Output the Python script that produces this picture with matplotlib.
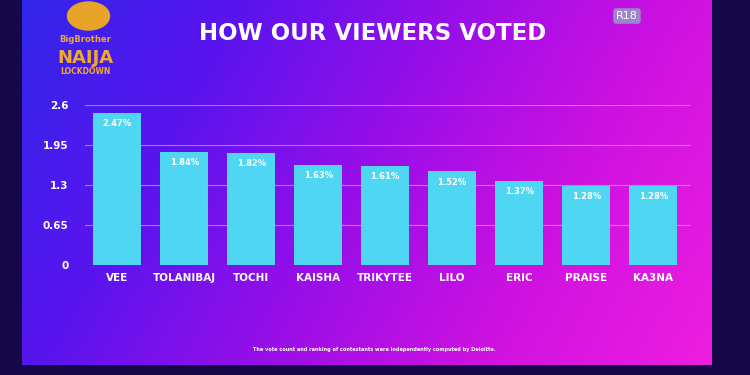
import numpy as np
import matplotlib.pyplot as plt
from matplotlib.colors import LinearSegmentedColormap
from matplotlib.patches import Ellipse

contestants = ['VEE', 'TOLANIBAJ', 'TOCHI', 'KAISHA', 'TRIKYTEE', 'LILO', 'ERIC', 'PRAISE', 'KA3NA']
votes = [2.47, 1.84, 1.82, 1.63, 1.61, 1.52, 1.37, 1.28, 1.28]
yticks = [0, 0.65, 1.3, 1.95, 2.6]
ytick_labels = ['0', '0.65', '1.3', '1.95', '2.6']

fig = plt.figure(figsize=(7.5, 3.75), dpi=100)
fig.patch.set_facecolor('#140848')

# screen background with a blue -> purple -> magenta gradient
bg = fig.add_axes([22 / 750, 10 / 375, 690 / 750, 365 / 375])
cmap = LinearSegmentedColormap.from_list('screen', ['#3226ea', '#5a14ee', '#9a0ee8', '#d012e0', '#ee1ee0'])
gx, gy = np.meshgrid(np.linspace(0, 1, 300), np.linspace(0, 1, 150))
grad = 0.85 * gx + 0.25 * gy
bg.imshow(grad, cmap=cmap, aspect='auto', extent=[0, 1, 0, 1], origin='upper', vmin=0, vmax=1.1)
bg.set_xlim(0, 1)
bg.set_ylim(0, 1)
bg.axis('off')

# main chart
ax = fig.add_axes([85 / 750, 1 - 265 / 375, 605 / 750, 160 / 375])
ax.patch.set_alpha(0)
x = np.arange(len(contestants))
ax.bar(x, votes, width=0.72, color='#4fd6f2', zorder=3)
for xi, v in zip(x, votes):
    ax.text(xi, v - 0.1, f'{v:.2f}%', ha='center', va='top', color='white',
            fontsize=6, fontweight='bold', zorder=4)
ax.set_ylim(0, 2.6)
ax.set_xlim(-0.48, 8.55)
ax.set_yticks(yticks)
ax.set_yticklabels(ytick_labels)
ax.set_xticks(x)
ax.set_xticklabels(contestants)
ax.grid(axis='y', color='#c89cf5', linewidth=0.8, alpha=0.7, zorder=0)
ax.tick_params(axis='both', length=0, colors='white', labelsize=7.5)
ax.tick_params(axis='y', pad=12)
ax.tick_params(axis='x', pad=6)
for lbl in ax.get_xticklabels() + ax.get_yticklabels():
    lbl.set_fontweight('bold')
for s in ax.spines.values():
    s.set_visible(False)

# title and decorations
fig.text(373 / 750, 1 - 33 / 375, 'HOW OUR VIEWERS VOTED', ha='center', va='center',
         color='white', fontsize=16.5, fontweight='bold')
fig.text(627 / 750, 1 - 16 / 375, 'R18', ha='center', va='center', color='white',
         fontsize=8, bbox=dict(boxstyle='round,pad=0.25', fc='#9a86c8', ec='none'))

logo = fig.add_axes([50 / 750, 1 - 80 / 375, 70 / 750, 80 / 375])
logo.set_xlim(0, 1)
logo.set_ylim(0, 1)
logo.axis('off')
logo.add_patch(Ellipse((0.55, 0.8), 0.6, 0.35, color='#e8a428'))
logo.text(0.5, 0.5, 'BigBrother', ha='center', va='center', color='#f0a830', fontsize=6, fontweight='bold')
logo.text(0.5, 0.28, 'NAIJA', ha='center', va='center', color='#f0a830', fontsize=13, fontweight='bold')
logo.text(0.5, 0.1, 'LOCKDOWN', ha='center', va='center', color='#f0a830', fontsize=5.5, fontweight='bold')

fig.text(374 / 750, 1 - 349 / 375,
         'The vote count and ranking of contestants were independently computed by Deloitte.',
         ha='center', va='center', color='white', fontsize=3.6, fontweight='bold')

fig.savefig('out.png', dpi=100, facecolor=fig.get_facecolor())
